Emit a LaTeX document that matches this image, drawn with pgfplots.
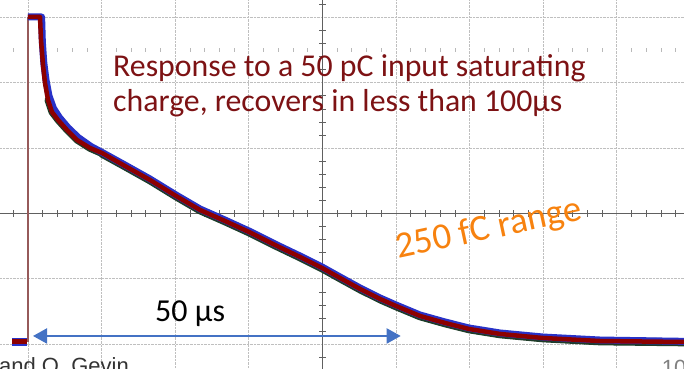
\documentclass[border=0pt]{standalone}
\usepackage{pgfplots}
\pgfplotsset{compat=1.18}
\usepackage{fontspec}
\setmainfont{Carlito}
\newfontfamily\arialfont{Liberation Sans}
\usetikzlibrary{arrows.meta}
\definecolor{tracered}{RGB}{140,0,0}
\definecolor{traceblue}{RGB}{40,50,200}
\definecolor{tracegreen}{RGB}{30,60,40}
\definecolor{txtred}{RGB}{125,18,20}
\definecolor{txtorange}{RGB}{247,130,15}
\definecolor{arrowblue}{RGB}{68,114,196}
\definecolor{edgebrown}{RGB}{150,90,90}
\begin{document}
\begin{tikzpicture}
\useasboundingbox (0,0) rectangle (684bp,369bp);
\clip (0,0) rectangle (684bp,369bp);
\begin{axis}[
  at={(0,0)}, anchor=south west,
  width=684bp, height=369bp, scale only axis,
  xmin=-3.804, xmax=89.13, ymin=-2.378, ymax=3.265,
  axis line style={draw=none},
  xtick={0,10,...,80}, ytick={-2,-1,0,1,2,3},
  xticklabels={}, yticklabels={},
  major tick length=0pt,
  grid=major,
  grid style={gray!50, densely dotted, line width=0.9bp},
  clip=false,
]
% center axes
\draw[gray!75!black, line width=0.8bp] (axis cs:-3.804,0) -- (axis cs:89.13,0);
\draw[gray!75!black, line width=0.8bp] (axis cs:40,-2.378) -- (axis cs:40,3.265);
\pgfplotsinvokeforeach{-2,2,4,6,8,12,14,16,18,22,24,26,28,32,34,36,38,42,44,46,48,52,54,56,58,62,64,66,68,72,74,76,78,82,84,86,88}{
  \draw[gray!75!black, line width=0.7bp] (axis cs:#1,-0.05) -- (axis cs:#1,0.05);
  \draw[gray!55, line width=0.7bp] (axis cs:#1,2.47) -- (axis cs:#1,2.53);
}
\pgfplotsinvokeforeach{-2.2,-1.8,-1.6,-1.4,-1.2,-0.8,-0.6,-0.4,-0.2,0.2,0.4,0.6,0.8,1.2,1.4,1.6,1.8,2.2,2.4,2.6,2.8,3.2}{
  \draw[gray!75!black, line width=0.7bp] (axis cs:39.55,#1) -- (axis cs:40.45,#1);
}
% pre-trigger baseline
\addplot[traceblue, line width=7.5bp] coordinates {(-2.17,-1.965) (-0.1,-1.965)};
\addplot[tracered, line width=5bp] coordinates {(-2.17,-1.965) (-0.1,-1.965)};
% trigger edge
\addplot[edgebrown, line width=1.1bp] coordinates {(0,-1.965) (0,3.005)};
% dark noise band (under)
\addplot[tracegreen, line width=7bp, line join=round, line cap=round] coordinates {
(2.72,1.735) (3.26,1.552) (4.08,1.430) (5.30,1.277) (6.66,1.124) (8.42,0.997) (10.05,0.917) (13.18,0.721) (16.58,0.507) (20.11,0.263) (23.37,0.049) (26.77,-0.120) (30.03,-0.288) (33.56,-0.487) (36.96,-0.670) (39.95,-0.838) (42.39,-0.991) (45.11,-1.159) (47.83,-1.312) (50.0,-1.419) (53.26,-1.572) (56.66,-1.679) (59.92,-1.771) (64.13,-1.847) (69.97,-1.909) (77.72,-1.955) (89.13,-1.970)};
\addplot[tracegreen, line width=8bp, line join=round, line cap=round] coordinates {
(10.05,0.915) (13.18,0.721) (16.58,0.507) (20.11,0.263) (23.37,0.049) (26.77,-0.120) (30.03,-0.288) (33.56,-0.487) (36.96,-0.670) (39.95,-0.838) (42.39,-0.991) (45.11,-1.159) (47.83,-1.312) (50.0,-1.419) (53.26,-1.572) (56.66,-1.679) (59.92,-1.771) (64.13,-1.847) (69.97,-1.909) (77.72,-1.955) (89.13,-1.970)};
% blue trace
\addplot[traceblue!55!white, line width=1bp] coordinates {(0,3.03) (1.95,3.03) (1.95,2.5)};
\addplot[traceblue, line width=7bp, line join=round] coordinates {
(0,3.005) (1.85,3.005) (1.95,2.62) (2.15,2.30) (2.45,2.04) (2.85,1.80) (3.45,1.61) (4.25,1.47) (5.45,1.31) (6.85,1.16) (8.55,1.025) (10.05,0.935) (13.18,0.741) (16.58,0.527) (20.11,0.283) (23.37,0.069) (26.77,-0.100) (30.03,-0.268) (33.56,-0.467) (36.96,-0.650) (39.95,-0.818) (42.39,-0.971) (45.11,-1.139) (47.83,-1.292) (50.0,-1.399) (53.26,-1.552) (56.66,-1.659) (59.92,-1.751) (64.13,-1.827) (69.97,-1.889) (77.72,-1.935) (89.13,-1.955)};
% red trace
\addplot[tracered, line width=4.5bp, line join=round] coordinates {
(0,3.005) (1.63,3.005) (1.77,2.653) (2.04,2.271) (2.31,1.995) (2.72,1.735) (3.26,1.552) (4.08,1.430) (5.30,1.277) (6.66,1.124) (8.42,1.002) (10.05,0.925) (13.18,0.726) (16.58,0.512) (20.11,0.268) (23.37,0.054) (26.77,-0.115) (30.03,-0.283) (33.56,-0.482) (36.96,-0.665) (39.95,-0.833) (42.39,-0.986) (45.11,-1.154) (47.83,-1.307) (50.0,-1.414) (53.26,-1.567) (56.66,-1.674) (59.92,-1.766) (64.13,-1.842) (69.97,-1.904) (77.72,-1.950) (89.13,-1.965)};
% annotations
\draw[arrowblue, line width=2bp, arrows={Triangle[length=14bp,width=15bp]-Triangle[length=14bp,width=15bp]}] (axis cs:0.68,-1.873) -- (axis cs:50.64,-1.873);
\node[anchor=base west, inner sep=0, text=txtred, font=\fontsize{31.8bp}{35bp}\selectfont] at (axis cs:11.55,2.10) {Response to a 50 pC input saturating};
\node[anchor=base west, inner sep=0, text=txtred, font=\fontsize{31.8bp}{35bp}\selectfont] at (axis cs:11.55,1.567) {charge, recovers in less than 100µs};
\node[anchor=base west, inner sep=0, text=black, font=\fontsize{32bp}{36bp}\selectfont] at (axis cs:17.26,-1.659) {50 µs};
\node[anchor=center, inner sep=0, rotate=12, text=txtorange, font=\fontsize{37bp}{42bp}\selectfont] at (axis cs:62.6,-0.25) {250 fC range};
\node[anchor=base west, inner sep=0, text=black!80, font=\arialfont\fontsize{22bp}{26bp}\selectfont] at (axis cs:-3.94,-2.454) {and O. Gevin};
\node[anchor=base west, inner sep=0, text=gray, font=\arialfont\fontsize{22bp}{26bp}\selectfont] at (axis cs:86.1,-2.485) {10};
\end{axis}
\end{tikzpicture}
\end{document}
